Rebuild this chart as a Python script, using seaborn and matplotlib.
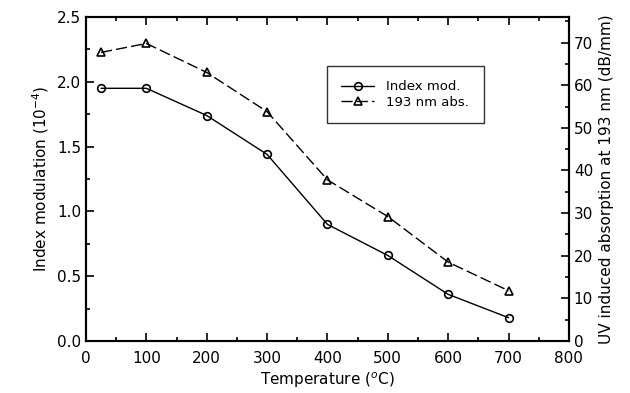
#!/usr/bin/env python3
# Index modulation and 193 nm absorption vs annealing temperature

import numpy as np
import pandas as pd
import seaborn as sns
import matplotlib.pyplot as plt
from matplotlib.ticker import MultipleLocator

sns.set_style("ticks")
plt.rcParams['font.family'] = ['DejaVu Sans']
plt.rcParams['text.color'] = "black"
plt.rcParams['axes.labelcolor'] = "black"
plt.rcParams['xtick.color'] = "black"
plt.rcParams['ytick.color'] = "black"

temperature = [25, 100, 200, 300, 400, 500, 600, 700]
index_mod = [1.95, 1.95, 1.74, 1.44, 0.90, 0.66, 0.36, 0.18]
absorption = [67.7, 69.8, 63.0, 53.8, 37.8, 29.2, 18.5, 11.8]

df = pd.DataFrame({"temperature": temperature, "index": index_mod, "abs": absorption})

fig = plt.figure(figsize=(6.3, 3.93), dpi=100)
ax = fig.add_axes([0.1365, 0.1323, 0.7665, 0.8244])
ax2 = ax.twinx()

sns.lineplot(x="temperature", y="index", data=df, ax=ax, color="black", lw=1.0,
             marker="o", markersize=5.5, markerfacecolor="none", markeredgecolor="black",
             markeredgewidth=1.2, legend=False)
sns.lineplot(x="temperature", y="abs", data=df, ax=ax2, color="black", lw=1.0,
             marker="^", markersize=5.5, markerfacecolor="none", markeredgecolor="black",
             markeredgewidth=1.2, legend=False)
ax2.lines[0].set_linestyle((0, (8, 3)))

ax.set_xlim(0, 800)
ax.set_ylim(0, 2.5)
ax2.set_ylim(0, 76)

ax.xaxis.set_major_locator(MultipleLocator(100))
ax.xaxis.set_minor_locator(MultipleLocator(50))
ax.yaxis.set_major_locator(MultipleLocator(0.5))
ax.yaxis.set_minor_locator(MultipleLocator(0.25))
ax2.yaxis.set_major_locator(MultipleLocator(10))
ax2.yaxis.set_minor_locator(MultipleLocator(5))

ax.tick_params(which="both", direction="in", top=True, labelsize=11, width=1.2)
ax.tick_params(which="major", length=6)
ax.tick_params(which="minor", length=3)
ax.tick_params(axis="x", pad=7.5)
ax2.tick_params(which="both", direction="in", labelsize=11, width=1.2)
ax2.tick_params(which="major", length=6)
ax2.tick_params(which="minor", length=3)
ax.set_yticks(np.arange(0, 2.6, 0.5))
ax.set_yticklabels(["{:.1f}".format(v) for v in np.arange(0, 2.6, 0.5)])
ax2.set_yticks(np.arange(0, 71, 10))
ax2.set_yticklabels([str(v) for v in range(0, 71, 10)])

for a in (ax, ax2):
    for s in a.spines.values():
        s.set_linewidth(1.5)
        s.set_color("black")

ax.set_xlabel("Temperature ($^{o}$C)", fontsize=11, labelpad=3)
ax.set_ylabel("Index modulation (10$^{-4}$)", fontsize=11)
ax2.set_ylabel("UV induced absorption at 193 nm (dB/mm)", fontsize=11)

handles = ax.get_lines()[:1] + ax2.get_lines()[:1]
leg = ax.legend(handles, ["Index mod.", "193 nm abs."], loc="upper left",
                bbox_to_anchor=(0.499, 0.85), frameon=True, fancybox=False,
                edgecolor="black", fontsize=9.5, handlelength=2.5, borderpad=1.1,
                labelspacing=0.2, handletextpad=0.9, borderaxespad=0)
leg.get_frame().set_linewidth(1.0)

plt.savefig("out.png", dpi=100)
